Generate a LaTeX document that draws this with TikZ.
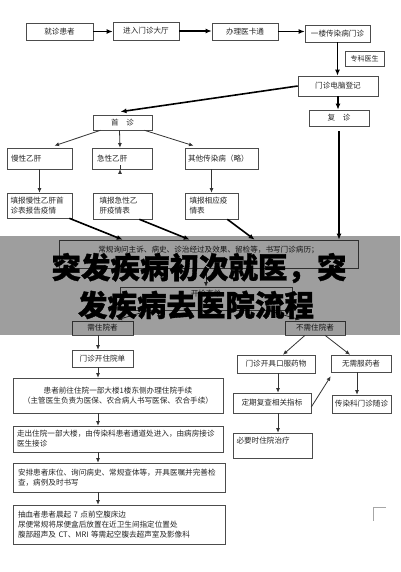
\documentclass[tikz,border=0pt]{standalone}
\usepackage{fontspec}
\newfontfamily\cjk{Noto Sans CJK SC}
\newfontfamily\cjkt{Noto Sans CJK SC}[BoldFeatures={FakeBold=1.2}]
\usetikzlibrary{arrows.meta,calc}
\begin{document}
\begin{tikzpicture}[x=1pt,y=-1pt,
 box/.style={draw=black!70, line width=0.6pt, fill=white, font=\cjk\fontsize{7.6}{10}\selectfont, text=black!85, inner sep=2pt},
 tarr/.style={line width=1.6pt, -{Latex[length=6pt,width=5pt]}},
 narr/.style={line width=0.8pt, black!80, -{Latex[length=4.5pt,width=4pt]}},
 titlef/.style={font=\cjkt\bfseries\fontsize{29.5}{36}\selectfont, text=black, inner sep=0pt}
]
\useasboundingbox (0,0) rectangle (400,572);
% top row
\node[box, minimum width=67pt, minimum height=17pt] (p1) at (59.5,31.5) {就诊患者};
\node[box, minimum width=66pt, minimum height=18pt] (p2) at (146,31) {进入门诊大厅};
\node[box, minimum width=66pt, minimum height=17pt] (p3) at (245,31.5) {办理医卡通};
\node[box, minimum width=65pt, minimum height=17pt] (p4) at (337.5,33.5) {一楼传染病门诊};
\node[box, minimum width=39pt, minimum height=15pt, font=\cjk\fontsize{7}{9}\selectfont] (p5) at (364.5,58.5) {专科医生};
\node[box, minimum width=80pt, minimum height=20pt] (p6) at (338,86) {门诊电脑登记};
\node[box, minimum width=60pt, minimum height=16pt] (p7) at (339,118) {复\quad 诊};
\node[box, minimum width=59pt, minimum height=15pt] (p8) at (122.5,122.5) {首\quad 诊};
% second level
\node[box, minimum width=65pt, minimum height=21pt, text width=57pt, align=left] (p9) at (39.5,158.5) {慢性乙肝};
\node[box, minimum width=60pt, minimum height=21pt, text width=50pt, align=left] (p10) at (122,158.5) {急性乙肝};
\node[box, minimum width=73pt, minimum height=21pt, text width=67pt, align=left] (p11) at (221.5,158.5) {其他传染病（略）};
\node[box, minimum width=65pt, minimum height=25pt, text width=58pt, align=left] (p12) at (39.5,205.5) {填报慢性乙肝首\\诊表报告疫情};
\node[box, minimum width=59pt, minimum height=26pt, text width=46pt, align=left] (p13) at (122.5,206) {填报急性乙\\肝疫情表};
\node[box, minimum width=53pt, minimum height=26pt, text width=44pt, align=left] (p14) at (211.5,206) {填报相应疫\\情表};
\node[box, minimum width=299pt, minimum height=28pt, align=center] (p15) at (208.5,254) {常规询问主诉、病史、诊治经过及效果、留检等，书写门诊病历；\\ \mbox{}};
\node[box, minimum width=172pt, minimum height=23pt, align=center] (p16) at (206,298.5) {开检查单\\ \mbox{}};
% lower left
\node[box, minimum width=61pt, minimum height=14pt] (p17) at (102.5,328) {需住院者};
\node[box, minimum width=60pt, minimum height=14pt] (p18) at (315,328) {不需住院者};
\node[box, minimum width=61pt, minimum height=17pt] (p19) at (102.5,358.5) {门诊开住院单};
\node[box, minimum width=210pt, minimum height=35pt, align=center] (p20) at (118,395.5) {患者前往住院一部大楼1楼东侧办理住院手续\\（主管医生负责为医保、农合病人书写医保、农合手续）};
\node[box, minimum width=210pt, minimum height=26pt, text width=202pt, align=left] (p21) at (118,439) {走出住院一部大楼，由传染科患者通道处进入，由病房接诊\\医生接诊};
\node[box, minimum width=212pt, minimum height=29pt, text width=202pt, align=left] (p22) at (119,477.5) {安排患者床位、询问病史、常规查体等，开具医嘱并完善检\\查，病例及时书写};
\node[box, minimum width=212pt, minimum height=39pt, text width=202pt, align=left] (p23) at (119,524.5) {抽血者患者晨起 7 点前空腹床边\\尿便常规将尿便盒后放置在近卫生间指定位置处\\腹部超声及 CT、MRI 等需起空腹去超声室及影像科};
% lower right
\node[box, minimum width=78pt, minimum height=18pt] (p24) at (276,364) {门诊开具口服药物};
\node[box, minimum width=60pt, minimum height=17pt] (p25) at (361,363.5) {无需服药者};
\node[box, minimum width=78pt, minimum height=20pt] (p26) at (272,403) {定期复查相关指标};
\node[box, minimum width=59pt, minimum height=18pt] (p27) at (361.5,404) {传染科门诊随诊};
\node[box, minimum width=79pt, minimum height=25pt, text width=72pt, align=left] (p28) at (272.5,445.5) {必要时住院治疗\\ \mbox{}};
% connectors top
\draw[tarr] (p1.east) -- (p1.east -| p2.west);
\draw[tarr] (p2.east) -- (p2.east -| p3.west);
\draw[tarr] (p3.east) -- (p3.east -| p4.west);
\draw[tarr] (p4.south) -- (p4.south |- p6.north);
\draw[tarr] (p6.south) -- (p6.south |- p7.north);
\draw[tarr] (p6.west) -- ($(p8.north)+(-2,-3)$);
\draw[narr] ($(p8.south)+(-22,0)$) -- ($(p9.north)+(15,-2)$);
\draw[narr] ($(p8.south)+(-3,0)$) -- ($(p10.north)+(-2,0)$);
\draw[narr] ($(p8.south)+(22,0)$) -- ($(p11.north)+(-28,-2)$);
\draw[narr] (p9.south) -- (p12.north);
\draw[narr] ($(p10.south)+(-2,0)$) -- ($(p10.south)+(-2,0)$ |- p13.north);
\draw[narr] (p11.south -| p14.north) -- (p14.north);
\draw[tarr] ($(p12.south east)+(-3,0)$) -- ($(p15.north west)+(64,0)$);
\draw[tarr] ($(p13.south east)+(-13,0)$) -- ($(p15.north west)+(131,0)$);
\draw[tarr] ($(p14.south east)+(-11,0)$) -- ($(p15.north west)+(196,0)$);
\draw[tarr] ($(p7.south)+(0,5)$) -- (p7.south |- p15.north);
\draw[narr] (p15.south -| p16.north) -- (p16.north);
\draw[narr] ($(p16.south west)+(30,0)$) -- ($(p17.north)+(15,-1)$);
\draw[narr] ($(p16.south east)+(-25,0)$) -- ($(p18.north)+(-15,-1)$);
% connectors lower
\coordinate (ax) at (98,0);
\coordinate (bx) at (278,0);
\coordinate (cx) at (357,0);
\draw[narr] (p17.south -| ax) -- (p19.north -| ax);
\draw[narr] (p19.south -| ax) -- (p20.north -| ax);
\draw[narr] (p20.south -| ax) -- (p21.north -| ax);
\draw[narr] (p21.south -| ax) -- (p22.north -| ax);
\draw[narr] (p22.south -| ax) -- (p23.north -| ax);
\draw[narr] ($(p18.south)+(-10,0)$) -- ($(p24.north)+(7,0)$);
\draw[narr] ($(p18.south)+(10,0)$) -- ($(p25.north)+(-11,0)$);
\draw[narr] (p24.south -| bx) -- (p26.north -| bx);
\draw[narr] (p25.south -| cx) -- (p27.north -| cx);
\draw[narr] (p26.south -| bx) -- (p28.north -| bx);
\draw[narr] ($(p26.east)+(0,4)$) -- ($(p25.south west)+(0,4)$);
% corner mark
\draw[black!35, line width=0.6pt] (386,507) -- (373,507) -- (373,521);
% overlay and title
\fill[black, opacity=0.38] (0,236) rectangle (400,335);
\node[titlef] (t1) at (199,268) {突发疾病初次就医，突};
\node[titlef] (t2) at (196,305) {发疾病去医院流程};
\end{tikzpicture}
\end{document}
